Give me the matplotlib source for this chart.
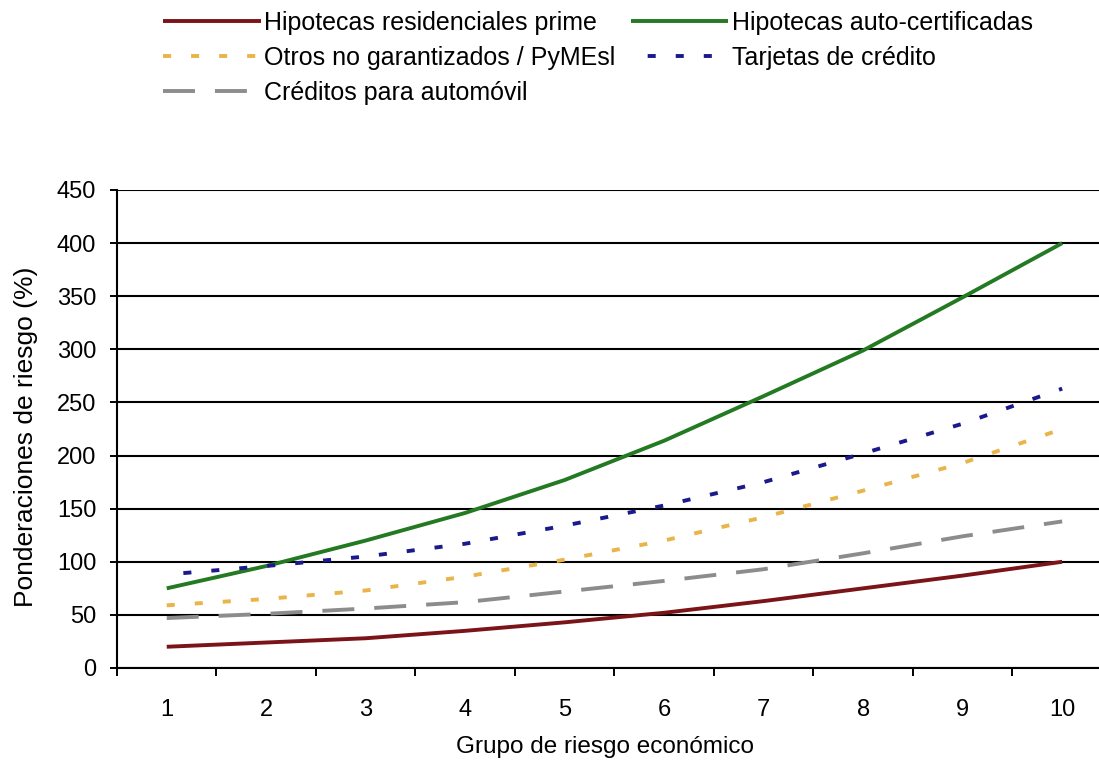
import numpy as np
import matplotlib
matplotlib.use("Agg")
import matplotlib.pyplot as plt
from matplotlib.ticker import MultipleLocator, FixedLocator, NullFormatter

plt.rcParams["font.family"] = ["Liberation Sans", "DejaVu Sans"]
plt.rcParams["lines.scale_dashes"] = False

# data
grupos = [1, 2, 3, 4, 5, 6, 7, 8, 9, 10]
hip_prime = [20, 24, 28, 35, 43, 52, 63, 75, 87, 100]
hip_auto = [75, 96, 120, 146, 177, 214, 256, 299, 349, 400]
otros = [59, 65, 73, 86, 102, 120, 142, 167, 193, 225]
tarjetas = [88, 96, 105, 117, 134, 153, 175, 202, 230, 263]
automovil = [47, 51, 56, 62, 72, 82, 93, 108, 124, 138]

labels = ["Hipotecas residenciales prime", "Otros no garantizados / PyMEsl",
          "Créditos para automóvil", "Hipotecas auto-certificadas",
          "Tarjetas de crédito"]

# figure 1099x769 px
fig = plt.figure(figsize=(10.99, 7.69), dpi=100)
W, H = 1099, 769
left, right, top, bottom = 117, 1099, 190, 668
ax = fig.add_axes([left / W, (H - bottom) / H, (right - left) / W, (bottom - top) / H])

lw = 2.8
l_prime, = ax.plot(grupos, hip_prime, color="#7a1418", lw=lw, solid_capstyle="butt")
l_otros, = ax.plot(grupos, otros, color="#e9b449", lw=lw, dashes=(5.8, 14.4))
l_auto_c, = ax.plot(grupos, automovil, color="#8c8c8c", lw=lw, dashes=(23, 14.4))
l_hip_a, = ax.plot(grupos, hip_auto, color="#237a23", lw=lw, solid_capstyle="butt")
l_tarj, = ax.plot(grupos, tarjetas, color="#1a1a8c", lw=lw, linestyle=(8.2, (5.8, 14.4)))

ax.set_xlim(0.5, 10.37)
ax.set_ylim(0, 450)

# y axis
ax.yaxis.set_major_locator(MultipleLocator(50))
ax.tick_params(axis="y", which="major", direction="out", length=5, width=1.4,
               pad=10, labelsize=17, colors="black")
ax.grid(axis="y", color="black", lw=1.5)
ax.set_axisbelow(True)

# x axis: ticks between categories, labels at centers
ax.xaxis.set_major_locator(FixedLocator(np.arange(0.5, 10.5, 1.0)))
ax.xaxis.set_major_formatter(NullFormatter())
ax.xaxis.set_minor_locator(FixedLocator(grupos))
ax.xaxis.set_minor_formatter(plt.FuncFormatter(lambda v, p: "%d" % v))
ax.tick_params(axis="x", which="major", direction="out", length=6, width=1.4)
ax.tick_params(axis="x", which="minor", length=0, pad=22, labelsize=17)

for s in ["top", "right"]:
    ax.spines[s].set_visible(False)
for s in ["left", "bottom"]:
    ax.spines[s].set_linewidth(1.5)
    ax.spines[s].set_color("black")

ax.set_xlabel("Grupo de riesgo económico", fontsize=17.5)
ax.xaxis.set_label_coords(0.497, -0.142)
ax.set_ylabel("Ponderaciones de riesgo (%)", fontsize=19)
ax.yaxis.set_label_coords(-0.080, 0.484)

fig.legend([l_prime, l_otros, l_auto_c, l_hip_a, l_tarj], labels,
           ncol=2, loc="upper left", bbox_to_anchor=(148 / W, 1.005),
           frameon=False, fontsize=18, handlelength=3.9, handletextpad=0.15,
           labelspacing=0.43, columnspacing=0.6, borderaxespad=0.2)

fig.savefig("out.png", dpi=100, facecolor="white")
